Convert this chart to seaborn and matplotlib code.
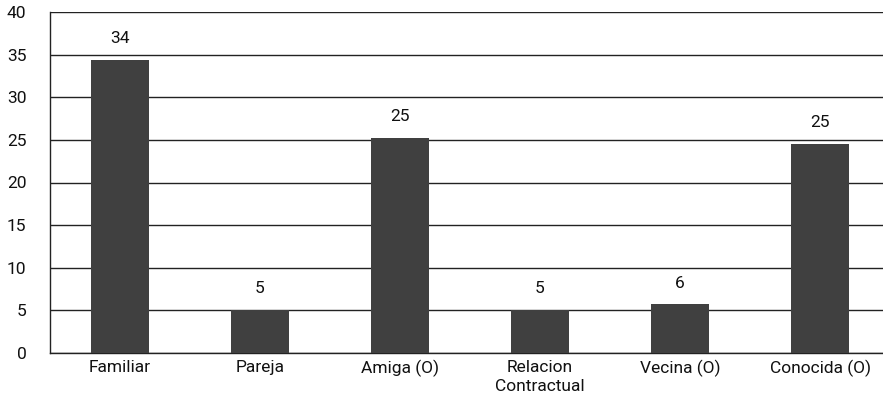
import matplotlib
matplotlib.use("Agg")
import matplotlib.pyplot as plt
import seaborn as sns
import pandas as pd

categories = ["Familiar", "Pareja", "Amiga (O)", "Relacion\nContractual", "Vecina (O)", "Conocida (O)"]
values = [34.4, 5.0, 25.2, 5.0, 5.7, 24.5]
labels = ["34", "5", "25", "5", "6", "25"]
yticks = [0, 5, 10, 15, 20, 25, 30, 35, 40]

sns.set_theme(style="white")
plt.rcParams['font.family'] = ['Roboto', 'DejaVu Sans']

df = pd.DataFrame({"cat": categories, "val": values})

fig = plt.figure(figsize=(8.83, 4.05), dpi=100)
ax = fig.add_axes([50/883, (405-353)/405, 840/883, 341/405])

sns.barplot(data=df, x="cat", y="val", color="#404040", saturation=1, width=0.41,
            linewidth=0, ax=ax, zorder=3)

ax.set_ylim(0, 40)
ax.set_yticks(yticks)
ax.set_yticklabels([str(t) for t in yticks])
ax.yaxis.grid(True, color="#222222", linewidth=1.0, zorder=0)
ax.set_axisbelow(True)
ax.set_xlabel("")
ax.set_ylabel("")
for s in ["top", "right"]:
    ax.spines[s].set_visible(False)
for s in ["left", "bottom"]:
    ax.spines[s].set_color("#222222")
    ax.spines[s].set_linewidth(1.0)
ax.tick_params(axis="y", length=0, pad=17, labelsize=12.5, colors="#111111")
ax.tick_params(axis="x", length=0, pad=5, labelsize=12.5, colors="#111111")
for lbl in ax.get_yticklabels():
    lbl.set_horizontalalignment("right")
for lbl in ax.get_xticklabels():
    lbl.set_linespacing(1.35)

for p, lab in zip(ax.patches, labels):
    x = p.get_x() + p.get_width() / 2
    ax.annotate(lab, (x, p.get_height()), xytext=(0, 10), textcoords="offset points",
                ha="center", va="bottom", fontsize=12.5, color="#111111")

fig.savefig("out.png", dpi=100)
